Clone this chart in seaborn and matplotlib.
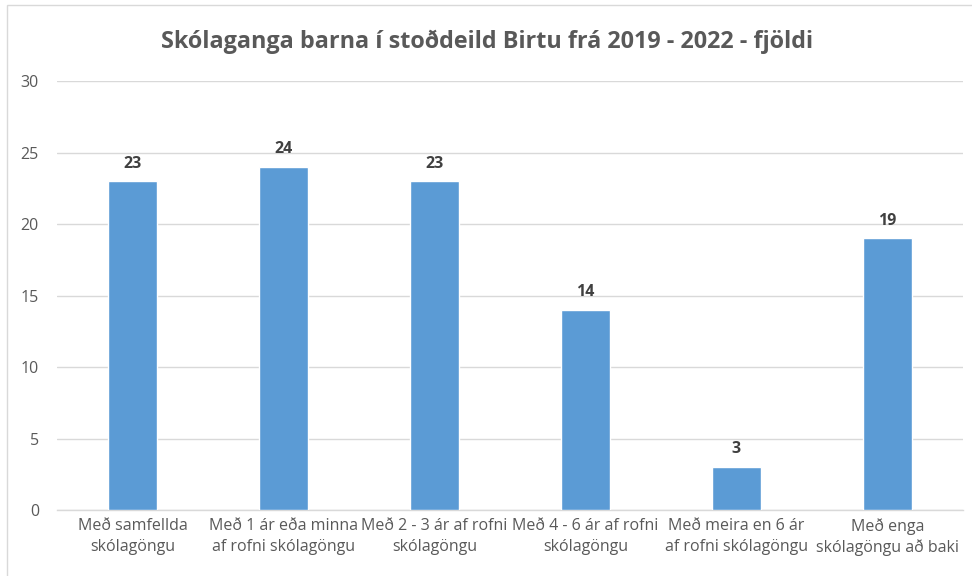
import pandas as pd
import matplotlib.pyplot as plt
import matplotlib.patches as patches
import seaborn as sns

# data
categories = [
    "Með samfellda\nskólagöngu",
    "Með 1 ár eða minna\naf rofni skólagöngu",
    "Með 2 - 3 ár af rofni\nskólagöngu",
    "Með 4 - 6 ár af rofni\nskólagöngu",
    "Með meira en 6 ár\naf rofni skólagöngu",
    "Með enga\nskólagöngu að baki",
]
values = [23, 24, 23, 14, 3, 19]
title = "Skólaganga barna í stoðdeild Birtu frá 2019 - 2022 - fjöldi"

df = pd.DataFrame({"flokkur": categories, "fjoldi": values})

sns.set_style("white")
plt.rcParams["font.family"] = ["Open Sans", "DejaVu Sans"]

fig = plt.figure(figsize=(9.72, 5.76), dpi=100)
ax = fig.add_axes([0.0586, 0.1146, 0.932, 0.7444])

sns.barplot(data=df, x="flokkur", y="fjoldi", color="#5B9BD5", width=0.32,
            saturation=1, ax=ax, zorder=3)

ax.set_ylim(0, 30)
ax.set_xlim(-0.5, 5.5)
ax.set_yticks(range(0, 31, 5))
ax.yaxis.grid(True, color="#D9D9D9", linewidth=1, zorder=0)
ax.set_axisbelow(True)
for s in ["top", "right", "left"]:
    ax.spines[s].set_visible(False)
ax.spines["bottom"].set_color("#D9D9D9")
ax.spines["bottom"].set_linewidth(1)
ax.tick_params(axis="both", length=0, labelsize=11.5, labelcolor="#595959")
ax.tick_params(axis="y", pad=13)
ax.tick_params(axis="x", pad=6)
for lbl in ax.get_xticklabels():
    lbl.set_linespacing(1.35)
ax.set_xlabel("")
ax.set_ylabel("")

for i, v in enumerate(values):
    ax.annotate(str(v), (i, v), xytext=(0, 7), textcoords="offset points",
                ha="center", va="bottom", fontsize=11.5, fontweight="bold",
                color="#404040")

fig.text(0.501, 0.927, title, ha="center", va="center", fontsize=16.8,
         fontweight="bold", color="#595959")

# chart frame
fig.patches.append(patches.Rectangle((7 / 972, -0.1), 1.2, 1.1 - 5 / 576,
                                     transform=fig.transFigure, fill=False,
                                     edgecolor="#D9D9D9", linewidth=1))

fig.savefig("out.png", dpi=100)
